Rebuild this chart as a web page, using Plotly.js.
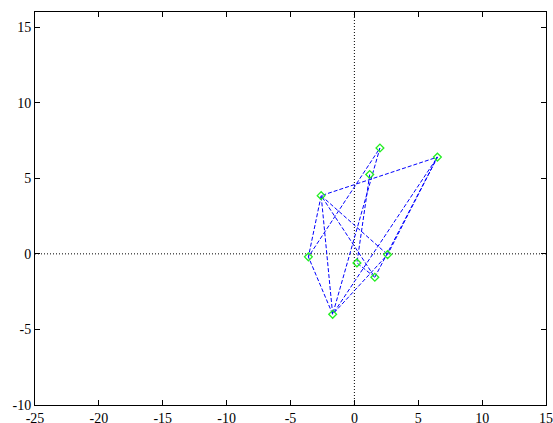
<!DOCTYPE html>
<html>
<head>
<meta charset="utf-8">
<script src="https://cdn.plot.ly/plotly-3.0.1.min.js"></script>
<style>html,body{margin:0;padding:0;background:#fff;}#chart{width:553px;height:423px;}</style>
</head>
<body>
<div id="chart"></div>
<script>
// Point coordinates
var pointNames = ["A", "B", "C", "D", "E", "F", "G", "H", "I"];
var pointX = [2.0, 6.5, 1.2, -2.6, -3.6, 2.6, 0.2, 1.6, -1.7];
var pointY = [7.0, 6.4, 5.25, 3.85, -0.2, -0.05, -0.6, -1.55, -4.0];

// Order in which the points are joined (null = pen up)
var pathOrder = ["C", "G", "H", "D", "E", "A", "I", "D", "B", "F", "I", "E", null,
                 "H", "B", "I", null,
                 "D", "F"];

var xTicks = [-25, -20, -15, -10, -5, 0, 5, 10, 15];
var yTicks = [-10, -5, 0, 5, 10, 15];

function lookup(arr, name) {
  if (name === null) return null;
  return arr[pointNames.indexOf(name)];
}
var lineX = pathOrder.map(function (n) { return lookup(pointX, n); });
var lineY = pathOrder.map(function (n) { return lookup(pointY, n); });

var traces = [
  {
    x: lineX, y: lineY, type: "scatter", mode: "lines",
    line: {color: "#0000ff", width: 1, dash: "4px,2px"},
    connectgaps: false, hoverinfo: "skip", showlegend: false
  },
  {
    x: pointX, y: pointY, type: "scatter", mode: "markers",
    marker: {symbol: "diamond-open", size: 6, color: "#22ee22", line: {width: 1.3, color: "#22ee22"}},
    showlegend: false
  }
];

var font = {family: "'Liberation Serif', 'Times New Roman', Times, serif", size: 14, color: "#000"};

var layout = {
  width: 553, height: 423,
  margin: {l: 35, r: 7, t: 12, b: 18},
  paper_bgcolor: "#fff", plot_bgcolor: "#fff",
  font: font,
  showlegend: false,
  xaxis: {
    range: [-25, 15], tickvals: xTicks, ticktext: xTicks.map(String),
    ticks: "inside", ticklen: 5, tickcolor: "#000", tickwidth: 1,
    showline: true, linecolor: "#000", linewidth: 1, mirror: "allticks",
    showgrid: false, zeroline: false, tickfont: font
  },
  yaxis: {
    range: [-10, 16], tickvals: yTicks, ticktext: yTicks.map(String),
    ticks: "inside", ticklen: 5, tickcolor: "#000", tickwidth: 1,
    showline: true, linecolor: "#000", linewidth: 1, mirror: "allticks",
    showgrid: false, zeroline: false, tickfont: font
  },
  shapes: [
    {type: "line", xref: "x", yref: "paper", x0: 0, x1: 0, y0: 0, y1: 1,
     line: {color: "#000", width: 1, dash: "1px,2px"}, layer: "below"},
    {type: "line", xref: "paper", yref: "y", x0: 0, x1: 1, y0: 0, y1: 0,
     line: {color: "#000", width: 1, dash: "1px,2px"}, layer: "below"}
  ]
};

Plotly.newPlot("chart", traces, layout, {displayModeBar: false, staticPlot: true});
</script>
</body>
</html>
